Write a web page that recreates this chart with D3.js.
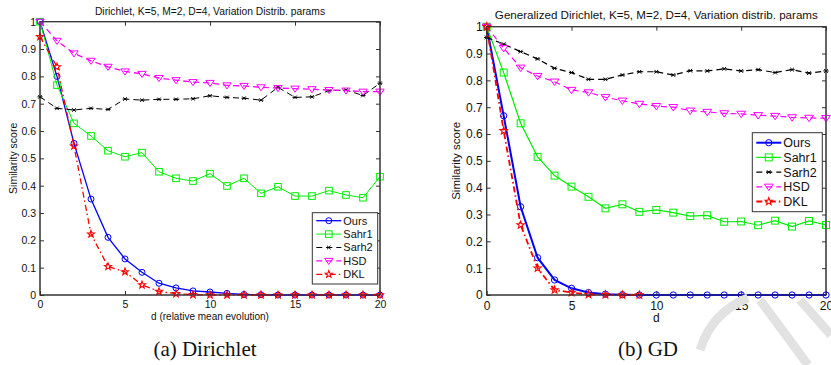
<!DOCTYPE html>
<html>
<head>
<script src="https://d3js.org/d3.v7.min.js"></script>
<style>
  body { margin: 0; background: #fff; }
  svg { display: block; }
  .tick text { font-family: "Liberation Sans", Arial, sans-serif; }
</style>
</head>
<body>
<div id="chart"></div>
<script>
// d values on the x axis
const dValues = [0, 1, 2, 3, 4, 5, 6, 7, 8, 9, 10, 11, 12, 13, 14, 15, 16, 17, 18, 19, 20];
const xTicks = [0, 5, 10, 15, 20];
const yTicks = [0, 0.1, 0.2, 0.3, 0.4, 0.5, 0.6, 0.7, 0.8, 0.9, 1];
const seriesNames = ["Ours", "Sahr1", "Sarh2", "HSD", "DKL"];

// (a) Dirichlet
const dirOurs  = [1, 0.80, 0.555, 0.351, 0.211, 0.132, 0.083, 0.043, 0.026, 0.015, 0.011, 0.006, 0.002, 0.001, 0, 0, 0, 0, 0, 0, 0];
const dirSahr1 = [1, 0.768, 0.628, 0.582, 0.528, 0.506, 0.521, 0.451, 0.427, 0.417, 0.444, 0.399, 0.427, 0.372, 0.396, 0.362, 0.362, 0.382, 0.366, 0.356, 0.433];
const dirSarh2 = [0.725, 0.683, 0.677, 0.683, 0.679, 0.717, 0.713, 0.716, 0.716, 0.718, 0.729, 0.723, 0.72, 0.713, 0.76, 0.723, 0.725, 0.748, 0.75, 0.73, 0.775];
const dirHSD   = [1, 0.93, 0.884, 0.857, 0.835, 0.818, 0.809, 0.794, 0.786, 0.779, 0.776, 0.767, 0.765, 0.76, 0.757, 0.755, 0.753, 0.75, 0.748, 0.744, 0.744];
const dirDKL   = [0.945, 0.835, 0.545, 0.223, 0.104, 0.085, 0.037, 0.013, 0.005, 0.001, 0, 0, 0, 0, 0, 0, 0, 0, 0, 0, 0];

// (b) Generalized Dirichlet
const gdOurs  = [1, 0.668, 0.329, 0.139, 0.056, 0.025, 0.009, 0.003, 0.001, 0, 0, 0, 0, 0, 0, 0, 0, 0, 0, 0, 0];
const gdSahr1 = [1, 0.829, 0.64, 0.515, 0.445, 0.404, 0.366, 0.323, 0.338, 0.31, 0.317, 0.307, 0.294, 0.297, 0.273, 0.274, 0.26, 0.277, 0.255, 0.276, 0.261];
const gdSarh2 = [0.96, 0.935, 0.907, 0.88, 0.845, 0.829, 0.804, 0.804, 0.82, 0.832, 0.832, 0.82, 0.836, 0.835, 0.843, 0.835, 0.84, 0.829, 0.84, 0.827, 0.835];
const gdHSD   = [1, 0.92, 0.847, 0.816, 0.795, 0.764, 0.755, 0.737, 0.724, 0.712, 0.704, 0.7, 0.687, 0.682, 0.677, 0.675, 0.67, 0.667, 0.662, 0.66, 0.659];
const gdDKL   = [1, 0.612, 0.261, 0.1, 0.019, 0.009, 0.002, 0.001, 0, 0];

const W = 831, H = 365;
const svg = d3.select("#chart").append("svg").attr("width", W).attr("height", H);

// style per series: colour, dash, marker
const styles = {
  "Ours":  { color: "#0000ff", dash: null,        marker: "circle" },
  "Sahr1": { color: "#00ee00", dash: null,        marker: "square" },
  "Sarh2": { color: "#000000", dash: "6,4",       marker: "asterisk" },
  "HSD":   { color: "#ff00ff", dash: "6,4",       marker: "triangle" },
  "DKL":   { color: "#ff0000", dash: "6,3,1.5,3", marker: "star" }
};

function starPath(x, y, r) {
  let d = "";
  for (let i = 0; i < 10; i++) {
    const a = -Math.PI / 2 + i * Math.PI / 5;
    const rr = i % 2 === 0 ? r : r * 0.42;
    d += (i === 0 ? "M" : "L") + (x + rr * Math.cos(a)).toFixed(2) + "," + (y + rr * Math.sin(a)).toFixed(2);
  }
  return d + "Z";
}

function drawMarker(g, type, x, y, color, s) {
  if (type === "circle") {
    g.append("circle").attr("cx", x).attr("cy", y).attr("r", s * 0.5)
      .attr("fill", "none").attr("stroke", color).attr("stroke-width", 1);
  } else if (type === "square") {
    g.append("rect").attr("x", x - s * 0.55).attr("y", y - s * 0.55)
      .attr("width", s * 1.1).attr("height", s * 1.1)
      .attr("fill", "none").attr("stroke", color).attr("stroke-width", 1);
  } else if (type === "triangle") {
    const r = s * 0.7;
    g.append("path")
      .attr("d", `M${x - r},${y - r * 0.6}L${x + r},${y - r * 0.6}L${x},${y + r * 0.85}Z`)
      .attr("fill", "none").attr("stroke", color).attr("stroke-width", 1);
  } else if (type === "star") {
    g.append("path")
      .attr("d", starPath(x, y, s * 0.62))
      .attr("fill", "none").attr("stroke", color).attr("stroke-width", 1.1);
  } else if (type === "asterisk") {
    const r = s * 0.42;
    g.append("path")
      .attr("d", `M${x - r},${y}L${x + r},${y}M${x - r * 0.7},${y - r * 0.7}L${x + r * 0.7},${y + r * 0.7}M${x - r * 0.7},${y + r * 0.7}L${x + r * 0.7},${y - r * 0.7}`)
      .attr("stroke", color).attr("stroke-width", 1);
  }
}

function drawPanel(p) {
  const x = d3.scaleLinear().domain([0, 20]).range([p.x0, p.x1]);
  const y = d3.scaleLinear().domain([0, 1]).range([p.y0, p.y1]);
  const g = svg.append("g");
  const font = "'Liberation Sans', Arial, sans-serif";

  // box
  g.append("rect").attr("x", p.x0).attr("y", p.y1)
    .attr("width", p.x1 - p.x0).attr("height", p.y0 - p.y1)
    .attr("fill", "#fff").attr("stroke", "#333").attr("stroke-width", 1);

  // axes with inward ticks
  const xAxis = g.append("g").attr("transform", `translate(0,${p.y0})`)
    .call(d3.axisBottom(x).tickValues(xTicks).tickSize(-4).tickPadding(6).tickFormat(d3.format("d")));
  const xTop = g.append("g").attr("transform", `translate(0,${p.y1})`)
    .call(d3.axisTop(x).tickValues(xTicks).tickSize(-4).tickFormat(""));
  const yAxis = g.append("g").attr("transform", `translate(${p.x0},0)`)
    .call(d3.axisLeft(y).tickValues(yTicks).tickSize(-4).tickPadding(4).tickFormat(d => d3.format("")(+d.toFixed(1))));
  const yRight = g.append("g").attr("transform", `translate(${p.x1},0)`)
    .call(d3.axisRight(y).tickValues(yTicks).tickSize(-4).tickFormat(""));
  [xAxis, xTop, yAxis, yRight].forEach(a => {
    a.select(".domain").remove();
    a.selectAll(".tick line").attr("stroke", "#333");
    a.selectAll(".tick text").attr("font-size", p.tickFont).attr("fill", "#111").attr("font-family", font);
  });

  // series
  p.series.forEach(s => {
    const st = styles[s.name];
    const pts = s.values.map((v, i) => [dValues[i], v]);
    g.append("path").datum(pts)
      .attr("fill", "none").attr("stroke", st.color)
      .attr("stroke-width", s.lw)
      .attr("stroke-dasharray", st.dash)
      .attr("d", d3.line().x(d => x(d[0])).y(d => y(d[1])));
    const mg = g.append("g");
    pts.forEach(d => drawMarker(mg, st.marker, x(d[0]), y(d[1]), st.color, p.markerSize));
  });

  // redraw frame lines on top
  g.append("rect").attr("x", p.x0).attr("y", p.y1)
    .attr("width", p.x1 - p.x0).attr("height", p.y0 - p.y1)
    .attr("fill", "none").attr("stroke", "#333").attr("stroke-width", 1);

  // title
  g.append("text").attr("x", (p.x0 + p.x1) / 2).attr("y", p.titleY)
    .attr("text-anchor", "middle").attr("font-family", font)
    .attr("font-size", p.titleFont).attr("fill", "#111").text(p.title);

  // axis labels
  g.append("text").attr("x", (p.x0 + p.x1) / 2).attr("y", p.xlabelY)
    .attr("text-anchor", "middle").attr("font-family", font)
    .attr("font-size", p.xlabelFont).attr("fill", "#111").text(p.xlabel);
  g.append("text")
    .attr("transform", `translate(${p.ylabelX},${(p.y0 + p.y1) / 2}) rotate(-90)`)
    .attr("text-anchor", "middle").attr("font-family", font)
    .attr("font-size", p.ylabelFont).attr("fill", "#111").text("Similarity score");

  // legend
  const L = p.legend;
  const lg = g.append("g");
  lg.append("rect").attr("x", L.x).attr("y", L.y).attr("width", L.w).attr("height", L.h)
    .attr("fill", "#fff").attr("stroke", "#333").attr("stroke-width", 1);
  seriesNames.forEach((name, i) => {
    const st = styles[name];
    const s = p.series.find(q => q.name === name);
    const yy = L.y + L.first + i * L.step;
    lg.append("line").attr("x1", L.x + 4).attr("x2", L.x + 4 + L.sample)
      .attr("y1", yy).attr("y2", yy)
      .attr("stroke", st.color).attr("stroke-width", s.lw).attr("stroke-dasharray", st.dash);
    drawMarker(lg, st.marker, L.x + 4 + L.sample / 2, yy, st.color, p.markerSize);
    lg.append("text").attr("x", L.x + 6 + L.sample).attr("y", yy).attr("dy", "0.36em")
      .attr("font-family", font).attr("font-size", L.font).attr("fill", "#111").text(name);
  });
}

drawPanel({
  x0: 40, x1: 380, y0: 295, y1: 21.7,
  title: "Dirichlet, K=5, M=2, D=4, Variation Distrib. params",
  titleY: 15, titleFont: 10.3,
  xlabel: "d (relative mean evolution)", xlabelY: 320, xlabelFont: 10,
  ylabelX: 17, ylabelFont: 10.5,
  tickFont: 10.5, markerSize: 6,
  series: [
    { name: "Ours",  values: dirOurs,  lw: 1.3 },
    { name: "Sahr1", values: dirSahr1, lw: 1 },
    { name: "Sarh2", values: dirSarh2, lw: 1 },
    { name: "HSD",   values: dirHSD,   lw: 1.3 },
    { name: "DKL",   values: dirDKL,   lw: 1.3 }
  ],
  legend: { x: 312.3, y: 212.7, w: 65.4, h: 71.3, first: 8, step: 13.4, sample: 25, font: 11 }
});

drawPanel({
  x0: 486.7, x1: 826, y0: 295, y1: 26.7,
  title: "Generalized Dirichlet, K=5, M=2, D=4, Variation distrib. params",
  titleY: 19, titleFont: 11.6,
  xlabel: "d", xlabelY: 322, xlabelFont: 12,
  ylabelX: 460, ylabelFont: 11.5,
  tickFont: 12, markerSize: 6.3,
  series: [
    { name: "Ours",  values: gdOurs,  lw: 2 },
    { name: "Sahr1", values: gdSahr1, lw: 1.2 },
    { name: "Sarh2", values: gdSarh2, lw: 1.2 },
    { name: "HSD",   values: gdHSD,   lw: 1.2 },
    { name: "DKL",   values: gdDKL,   lw: 1.8 }
  ],
  legend: { x: 752.3, y: 132.7, w: 70, h: 79, first: 10, step: 14.7, sample: 25, font: 12.5 }
});

// captions
svg.append("text").attr("x", 205).attr("y", 356).attr("text-anchor", "middle")
  .attr("font-family", "'Liberation Serif', 'DejaVu Serif', serif").attr("font-size", 21)
  .attr("fill", "#111").text("(a) Dirichlet");
svg.append("text").attr("x", 648).attr("y", 356).attr("text-anchor", "middle")
  .attr("font-family", "'Liberation Serif', 'DejaVu Serif', serif").attr("font-size", 21)
  .attr("fill", "#111").text("(b) GD");

// faint watermark strokes in the lower right corner
const wm = svg.append("g").attr("fill", "none").attr("stroke", "#e2e2e2").attr("stroke-width", 9);
wm.append("path").attr("d", "M700,350 Q712,312 748,298");
wm.append("path").attr("d", "M760,300 L808,365");
wm.append("path").attr("d", "M800,300 L831,335");
</script>
</body>
</html>
